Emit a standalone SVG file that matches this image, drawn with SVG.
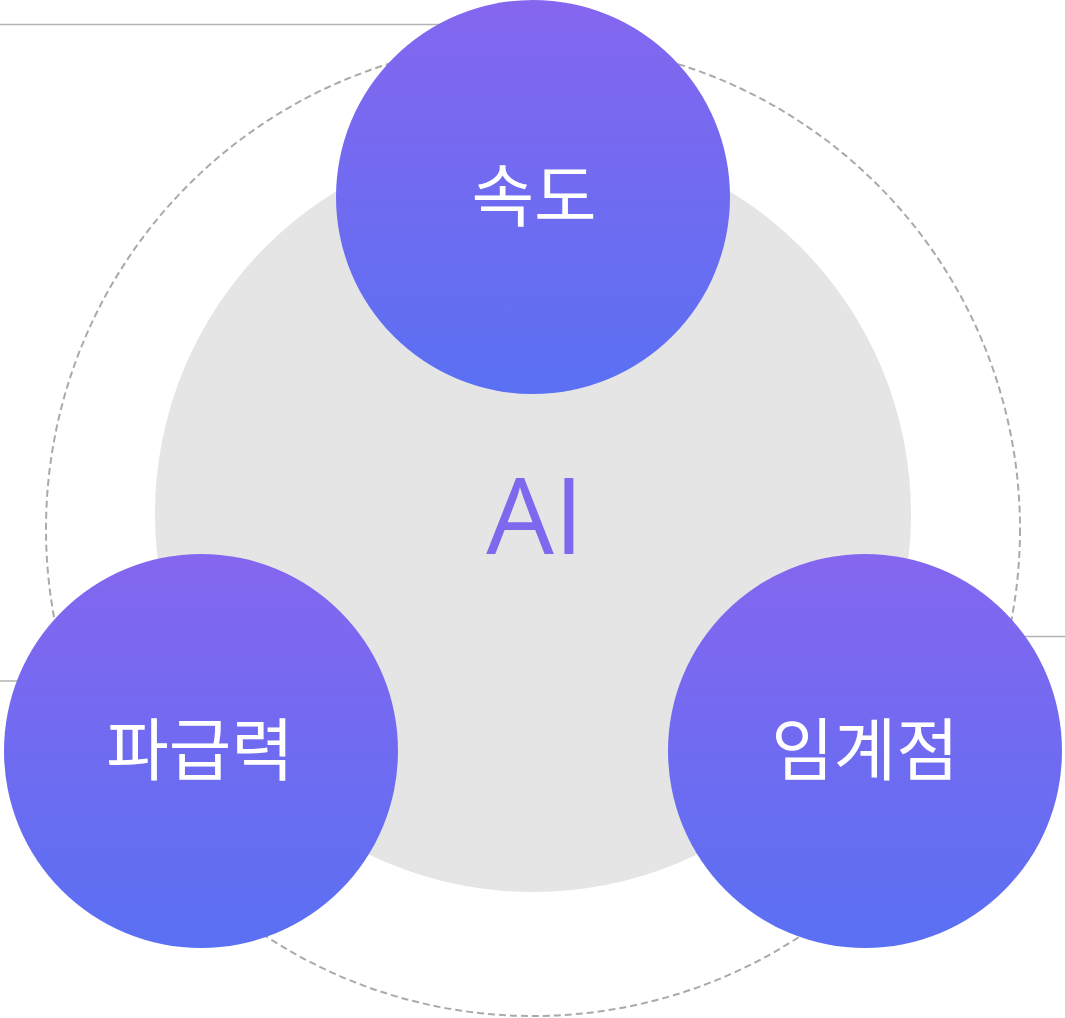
<svg xmlns="http://www.w3.org/2000/svg" width="1065" height="1018" viewBox="0 0 1065 1018">
<defs>
<linearGradient id="g" x1="0" y1="0" x2="0" y2="1">
<stop offset="0" stop-color="#8566ef"/>
<stop offset="1" stop-color="#5a70f3"/>
</linearGradient>
<style>
.ln{stroke:#b3b3b3;stroke-width:1.5;fill:none}
.node{fill:url(#g)}
.lbl{font-family:"Noto Sans CJK KR","Noto Sans",sans-serif;font-size:68px;fill:#ffffff;text-anchor:middle}
.ai{font-family:"Open Sans","Noto Sans",sans-serif;font-size:107px;fill:#7e68ee;text-anchor:middle}
</style>
</defs>
<rect width="1065" height="1018" fill="#ffffff"/>
<g id="connectors">
<line class="ln" x1="0" y1="24.5" x2="533" y2="24.5"/>
<line class="ln" x1="960" y1="636.5" x2="1065" y2="636.5"/>
<line class="ln" x1="0" y1="681" x2="100" y2="681"/>
<circle cx="533" cy="529" r="487" fill="none" stroke="#aaaaaa" stroke-width="2" stroke-dasharray="7 4"/>
</g>
<g id="center">
<circle cx="533" cy="514" r="378" fill="#e5e5e5"/>
<text class="ai" x="535" y="554">AI</text>
</g>
<g id="node-speed">
<circle class="node" cx="533" cy="197" r="197"/>
<text class="lbl" x="534" y="221">속도</text>
</g>
<g id="node-impact">
<circle class="node" cx="201" cy="751" r="197"/>
<text class="lbl" x="200" y="775">파급력</text>
</g>
<g id="node-threshold">
<circle class="node" cx="865" cy="751" r="197"/>
<text class="lbl" x="865" y="775">임계점</text>
</g>
</svg>
